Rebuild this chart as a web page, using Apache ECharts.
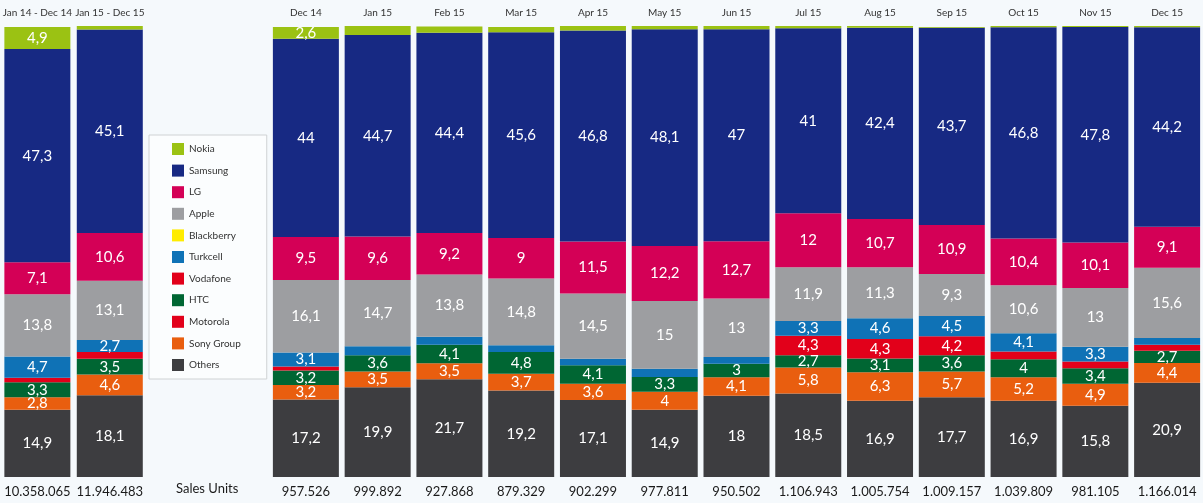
<!DOCTYPE html>
<html>
<head>
<meta charset="utf-8">
<script src="https://cdn.jsdelivr.net/npm/echarts@6/dist/echarts.min.js"></script>
<style>
  html, body { margin: 0; padding: 0; background: #f5f9fc; }
  #chart { width: 1203px; height: 503px; }
</style>
</head>
<body>
<div id="chart"></div>
<script>
// first two are yearly totals, the rest are months
var periodLabels = ['Jan 14 - Dec 14', 'Jan 15 - Dec 15']
var monthLabels = ['Dec 14', 'Jan 15', 'Feb 15', 'Mar 15', 'Apr 15', 'May 15', 'Jun 15',
  'Jul 15', 'Aug 15', 'Sep 15', 'Oct 15', 'Nov 15', 'Dec 15']
var salesUnits = ['10.358.065', '11.946.483',
  '957.526', '999.892', '927.868', '879.329', '902.299', '977.811', '950.502',
  '1.106.943', '1.005.754', '1.009.157', '1.039.809', '981.105', '1.166.014']

// market share (%)
var nokia = [4.9, 0.8, 2.6, 2.0, 1.4, 1.2, 1.0, 0.7, 0.7, 0.5, 0.4, 0.2, 0.3, 0.2, 0.3]
var samsung = [47.3, 45.1, 44, 44.7, 44.4, 45.6, 46.8, 48.1, 47, 41, 42.4, 43.7, 46.8, 47.8, 44.2]
var lg = [7.1, 10.6, 9.5, 9.6, 9.2, 9, 11.5, 12.2, 12.7, 12, 10.7, 10.9, 10.4, 10.1, 9.1]
var apple = [13.8, 13.1, 16.1, 14.7, 13.8, 14.8, 14.5, 15, 13, 11.9, 11.3, 9.3, 10.6, 13, 15.6]
var blackberry = [0, 0, 0, 0, 0, 0, 0, 0, 0, 0, 0, 0, 0, 0, 0]
var turkcell = [4.7, 2.7, 3.1, 2.0, 1.8, 1.5, 1.4, 1.8, 1.5, 3.3, 4.6, 4.5, 4.1, 3.3, 1.5]
var vodafone = [1.0, 1.5, 0.9, 0, 0, 0, 0, 0, 0, 4.3, 4.3, 4.2, 1.7, 1.5, 1.3]
var htc = [3.3, 3.5, 3.2, 3.6, 4.1, 4.8, 4.1, 3.3, 3, 2.7, 3.1, 3.6, 4, 3.4, 2.7]
var motorola = [0, 0, 0, 0, 0, 0, 0, 0, 0, 0, 0, 0, 0, 0, 0]
var sony = [2.8, 4.6, 3.2, 3.5, 3.5, 3.7, 3.6, 4, 4.1, 5.8, 6.3, 5.7, 5.2, 4.9, 4.4]
var others = [14.9, 18.1, 17.2, 19.9, 21.7, 19.2, 17.1, 14.9, 18, 18.5, 16.9, 17.7, 16.9, 15.8, 20.9]

var legendOrder = ['Nokia', 'Samsung', 'LG', 'Apple', 'Blackberry', 'Turkcell', 'Vodafone', 'HTC', 'Motorola', 'Sony Group', 'Others']

// bottom of the stack first
var brands = [
  { name: 'Others', data: others, color: '#3d3d40' },
  { name: 'Sony Group', data: sony, color: '#e95e0f' },
  { name: 'HTC', data: htc, color: '#006633' },
  { name: 'Motorola', data: motorola, color: '#e2001a' },
  { name: 'Vodafone', data: vodafone, color: '#e2001a' },
  { name: 'Turkcell', data: turkcell, color: '#0f72b6' },
  { name: 'Blackberry', data: blackberry, color: '#ffec00' },
  { name: 'Apple', data: apple, color: '#9d9ea1' },
  { name: 'LG', data: lg, color: '#d40056' },
  { name: 'Samsung', data: samsung, color: '#172983' },
  { name: 'Nokia', data: nokia, color: '#9bc213' }
]

var font = 'Lato, "Open Sans", sans-serif'

function makeSeries(b, gridIdx) {
  var vals = gridIdx === 0 ? b.data.slice(0, 2) : b.data.slice(2)
  return {
    name: b.name,
    type: 'bar',
    stack: gridIdx === 0 ? 'year' : 'month',
    xAxisIndex: gridIdx === 0 ? 0 : 2,
    yAxisIndex: gridIdx,
    barWidth: 66,
    itemStyle: { color: b.color },
    label: {
      show: true,
      position: 'inside',
      color: '#fff',
      fontFamily: font,
      fontSize: 15,
      formatter: function(p) {
        if (p.value < 2.5) { return '' }
        return String(p.value).replace('.', ',')
      }
    },
    data: vals
  }
}

var series = []
brands.forEach(function(b) {
  series.push(makeSeries(b, 0))
  series.push(makeSeries(b, 1))
})

function catAxis(gridIdx, pos, labels) {
  return {
    type: 'category',
    gridIndex: gridIdx,
    position: pos,
    data: labels,
    axisLine: { show: false },
    axisTick: { show: false },
    axisLabel: pos === 'top'
      ? { interval: 0, color: '#333', fontFamily: font, fontSize: 10, margin: 8 }
      : { interval: 0, color: '#1a1a1a', fontFamily: font, fontSize: 13, margin: 8 }
  }
}

var chart = echarts.init(document.getElementById('chart'))
chart.setOption({
  backgroundColor: '#f5f9fc',
  animation: false,
  grid: [
    { left: 0, top: 26, width: 146, bottom: 26 },
    { left: 270, top: 26, width: 933, bottom: 26 }
  ],
  xAxis: [
    catAxis(0, 'bottom', salesUnits.slice(0, 2)),
    catAxis(0, 'top', periodLabels),
    catAxis(1, 'bottom', salesUnits.slice(2)),
    catAxis(1, 'top', monthLabels)
  ],
  yAxis: [
    { type: 'value', gridIndex: 0, min: 0, max: 100, show: false },
    { type: 'value', gridIndex: 1, min: 0, max: 100, show: false }
  ],
  legend: {
    data: legendOrder,
    orient: 'vertical',
    left: 149,
    top: 135,
    padding: [8, 26, 8, 23],
    itemWidth: 12,
    itemHeight: 12,
    itemGap: 9.6,
    icon: 'rect',
    backgroundColor: '#fbfdfe',
    borderColor: '#cfd2d4',
    borderWidth: 1,
    textStyle: { color: '#333', fontFamily: font, fontSize: 10 }
  },
  graphic: [
    {
      type: 'text',
      left: 176,
      top: 482,
      style: { text: 'Sales Units', fill: '#1a1a1a', font: '13px ' + font }
    }
  ],
  series: series
})
</script>
</body>
</html>
